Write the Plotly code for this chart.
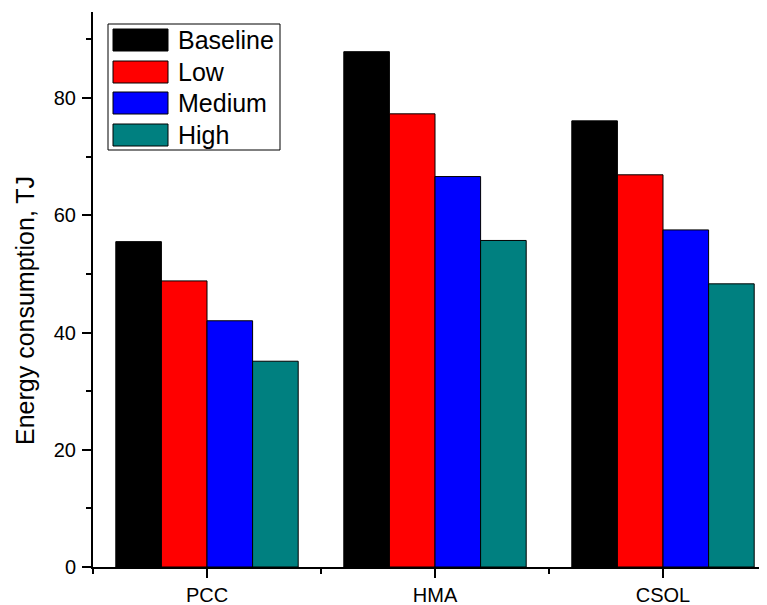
import plotly.graph_objects as go

categories = ["PCC", "HMA", "CSOL"]
series_names = ["Baseline", "Low", "Medium", "High"]
baseline = [55.5, 87.9, 76.1]
low = [48.8, 77.3, 66.9]
medium = [42.0, 66.6, 57.5]
high = [35.1, 55.7, 48.3]
y_ticks = [0, 20, 40, 60, 80]
y_minor = [10, 30, 50, 70, 90]

series_values = [baseline, low, medium, high]
colors = ["#000000", "#FF0000", "#0000FF", "#008080"]

# page body has an 8px margin; work in window pixels and convert
OFF = 8
WIN_W, WIN_H = 767, 605
W, H = WIN_W - OFF, WIN_H - OFF
PL, PR, PT, PB = 93, 767, 12, 567   # plot area in window pixels
ML, MR, MT, MB = PL - OFF, WIN_W - PR, PT - OFF, WIN_H - PB
PW = PR - PL
PH = PB - PT

def px(x):
    return (x - PL) / PW

def py(y):
    return (PB - y) / PH

xpos = list(range(len(categories)))

fig = go.Figure()
for name, vals, col in zip(series_names, series_values, colors):
    fig.add_trace(go.Bar(
        x=xpos, y=vals, name=name,
        marker=dict(color=col, line=dict(color="#000000", width=1)),
        showlegend=False,
    ))

font_family = "Liberation Sans, Arial, sans-serif"

fig.update_layout(
    width=W, height=H,
    margin=dict(l=ML, r=MR, t=MT, b=MB, pad=0),
    paper_bgcolor="white", plot_bgcolor="white",
    barmode="group", bargap=0.2, bargroupgap=0,
    font=dict(family=font_family, color="black", size=20),
    xaxis=dict(
        range=[-0.5, -0.5 + PW / 228.0],
        tickvals=xpos, ticktext=categories,
        ticks="outside", ticklen=9, tickwidth=2, tickcolor="black",
        showline=True, linecolor="black", linewidth=2,
        showgrid=False, zeroline=False,
        tickfont=dict(size=20),
        minor=dict(tickvals=[-0.5, 0.5, 1.5, 2.5], ticks="outside", ticklen=5,
                   tickwidth=2, tickcolor="black", showgrid=False),
    ),
    yaxis=dict(
        range=[0, PH / 5.8625],
        tickvals=y_ticks,
        ticks="outside", ticklen=9, tickwidth=2, tickcolor="black",
        showline=True, linecolor="black", linewidth=2,
        showgrid=False, zeroline=False,
        tickfont=dict(size=20),
        ticklabelstandoff=2,
        minor=dict(tickvals=y_minor, ticks="outside", ticklen=5,
                   tickwidth=2, tickcolor="black", showgrid=False),
    ),
)

# axis title
fig.add_annotation(
    text="Energy consumption, TJ", textangle=-90,
    xref="paper", yref="paper", x=px(25), y=py(311),
    showarrow=False, font=dict(size=25, family=font_family, color="black"),
    xanchor="center", yanchor="middle",
)

# custom legend
shapes = [dict(type="rect", xref="paper", yref="paper",
               x0=px(108), x1=px(280), y0=py(150), y1=py(24),
               line=dict(color="black", width=1), fillcolor="white", layer="above")]
centers = [40, 72, 103, 135]
for name, col, cy in zip(series_names, colors, centers):
    shapes.append(dict(type="rect", xref="paper", yref="paper",
                       x0=px(113), x1=px(168), y0=py(cy + 11), y1=py(cy - 11),
                       line=dict(color="black", width=1), fillcolor=col, layer="above"))
    fig.add_annotation(text=name, xref="paper", yref="paper",
                       x=px(176), y=py(cy), xanchor="left", yanchor="middle",
                       showarrow=False,
                       font=dict(size=25, family=font_family, color="black"))
fig.update_layout(shapes=shapes)

fig.write_html("out.html")
